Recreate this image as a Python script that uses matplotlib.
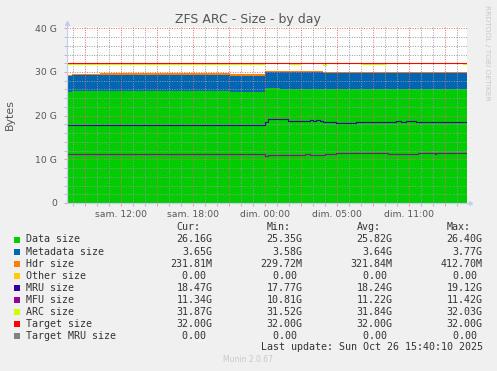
import matplotlib
matplotlib.use('Agg')
import matplotlib.pyplot as plt
import numpy as np
from matplotlib.patches import Rectangle
from matplotlib.ticker import FixedLocator

# ---------------- data (values in G, time in hours since Sat 00:00 UTC) ----------------
t_start, t_end = 5.47, 38.8

t_data = [5.47, 5.86, 19.05, 21.97, 23.22, 38.8]
v_data = [25.35, 25.60, 25.38, 26.40, 26.16, 26.16]

t_meta = [5.47, 8.22, 19.05, 21.97, 23.22, 26.83, 27.25, 38.8]
v_meta = [3.62, 3.70, 3.64, 3.60, 3.77, 3.58, 3.65, 3.65]

t_hdr = [5.47, 21.97, 34.05, 38.8]
v_hdr = [0.4127, 0.29, 0.2318, 0.2318]

t_other = [5.47, 38.8]
v_other = [0.0, 0.0]

t_mru = [5.47, 6.4, 6.7, 11.7, 12.0, 21.97, 22.25, 23.92, 25.72, 26.0, 26.28,
         26.55, 26.83, 27.95, 29.61, 32.95, 33.36, 33.78, 34.61, 38.8]
v_mru = [17.77, 17.95, 17.77, 17.95, 17.77, 18.60, 19.12, 18.85, 19.00, 18.85, 19.00,
         18.85, 18.50, 18.30, 18.50, 18.70, 18.50, 18.70, 18.47, 18.47]

t_mfu = [5.47, 21.97, 22.25, 25.3, 25.72, 26.97, 27.95, 32.25, 34.75, 36.14, 36.28, 38.8]
v_mfu = [11.20, 10.81, 11.05, 11.15, 11.05, 11.15, 11.40, 11.22, 11.42, 11.30, 11.34, 11.34]

t_arc = [5.47, 21.97, 24.05, 25.03, 26.83, 27.1, 30.03, 32.11, 38.5, 38.8]
v_arc = [31.85, 32.02, 31.75, 32.02, 31.52, 32.02, 31.75, 32.02, 31.87, 31.87]

t_target = [5.47, 38.8]
v_target = [32.0, 32.0]

t_target_mru = [5.47, 38.8]
v_target_mru = [0.0, 0.0]

x_tick_pos = [10, 16, 22, 28, 34]
x_tick_labels = ['sam. 12:00', 'sam. 18:00', 'dim. 00:00', 'dim. 05:00', 'dim. 11:00']
y_tick_pos = [0, 10, 20, 30, 40]
y_tick_labels = ['0', '10 G', '20 G', '30 G', '40 G']

legend_names = ['Data size', 'Metadata size', 'Hdr size', 'Other size', 'MRU size',
                'MFU size', 'ARC size', 'Target size', 'Target MRU size']
legend_colors = ['#00CC00', '#0066B3', '#FF8000', '#FFCC00', '#330099',
                 '#990099', '#CCFF00', '#FF0000', '#808080']
cur_vals = ['26.16G', '3.65G', '231.81M', '0.00 ', '18.47G', '11.34G', '31.87G', '32.00G', '0.00 ']
min_vals = ['25.35G', '3.58G', '229.72M', '0.00 ', '17.77G', '10.81G', '31.52G', '32.00G', '0.00 ']
avg_vals = ['25.82G', '3.64G', '321.84M', '0.00 ', '18.24G', '11.22G', '31.84G', '32.00G', '0.00 ']
max_vals = ['26.40G', '3.77G', '412.70M', '0.00 ', '19.12G', '11.42G', '32.03G', '32.00G', '0.00 ']

# ---------------- figure ----------------
W, H = 497, 371
fig = plt.figure(figsize=(W / 100, H / 100), dpi=100, facecolor='#f0f0f0')

def fx(x):
    return x / W

def fy(y):
    return 1 - y / H

ax_top_px, ax_bot_px = 27.0, 203.0
ymax = 40 * (ax_bot_px - ax_top_px) / (ax_bot_px - 28.3)
ax = fig.add_axes([fx(67), fy(ax_bot_px), fx(466.5) - fx(67), fy(ax_top_px) - fy(ax_bot_px)])
ax.set_facecolor('white')

# common step grid (step lookup, no interpolation)
grid_t = np.array(sorted(set(t_data + t_meta + t_hdr + t_other)))

def step_at(ts, vs, grid):
    ts = np.asarray(ts)
    vs = np.asarray(vs)
    idx = np.searchsorted(ts, grid, side='right') - 1
    idx = np.clip(idx, 0, len(vs) - 1)
    return vs[idx]

d = step_at(t_data, v_data, grid_t)
m = step_at(t_meta, v_meta, grid_t)
h = step_at(t_hdr, v_hdr, grid_t)
o = step_at(t_other, v_other, grid_t)

b0 = np.zeros_like(d)
b1 = d
b2 = b1 + m
b3 = b2 + h
b4 = b3 + o
ax.fill_between(grid_t, b0, b1, step='post', color=legend_colors[0], lw=0, zorder=1)
ax.fill_between(grid_t, b1, b2, step='post', color=legend_colors[1], lw=0, zorder=1)
ax.fill_between(grid_t, b2, b3, step='post', color=legend_colors[2], lw=0, zorder=1)
ax.fill_between(grid_t, b3, b4, step='post', color=legend_colors[3], lw=0, zorder=1)

lw = 0.8
ax.step(t_mru, v_mru, where='post', color=legend_colors[4], lw=lw, zorder=3)
ax.step(t_mfu, v_mfu, where='post', color=legend_colors[5], lw=lw, zorder=3)
ax.step(t_arc, v_arc, where='post', color=legend_colors[6], lw=lw, zorder=3)
ax.step(t_target, v_target, where='post', color=legend_colors[7], lw=lw, zorder=3)
ax.step(t_target_mru, v_target_mru, where='post', color=legend_colors[8], lw=lw, zorder=3)

ax.set_xlim(t_start, t_end)
ax.set_ylim(0, ymax)

# grid
minor_x = list(range(6, 39))
major_x = list(range(7, 39, 3))
ax.xaxis.set_major_locator(FixedLocator(major_x))
ax.xaxis.set_minor_locator(FixedLocator(minor_x))
ax.set_xticklabels([x_tick_labels[x_tick_pos.index(v)] if v in x_tick_pos else '' for v in major_x])
ax.yaxis.set_major_locator(FixedLocator(y_tick_pos))
ax.yaxis.set_minor_locator(FixedLocator(list(range(0, 41, 2))))
ax.set_yticklabels(y_tick_labels)

mgrid = (0.9, 0.4, 0.4, 0.35)
ggrid = (0.6, 0.6, 0.6, 0.28)
ax.grid(which='minor', color=ggrid, lw=0.7, ls=(0, (1, 1.5)), zorder=4)
ax.grid(which='major', color=mgrid, lw=0.7, ls=(0, (1, 1.5)), zorder=4)
ax.set_axisbelow(False)

ax.tick_params(axis='both', which='both', direction='out', length=2, width=0.7,
               labelsize=6.7, labelcolor='#555555')
ax.tick_params(axis='x', which='minor', colors=(0.6, 0.6, 0.6, 0.6), labelcolor='#555555')
ax.tick_params(axis='x', which='major', colors=(0.9, 0.4, 0.4, 0.6), labelcolor='#555555', pad=3)
ax.tick_params(axis='y', which='minor', colors=(0.6, 0.6, 0.6, 0.6))
ax.tick_params(axis='y', which='major', colors=(0.9, 0.4, 0.4, 0.6), labelcolor='#555555', pad=5)

axis_col = '#c4ccf0'
for s in ['top', 'right']:
    ax.spines[s].set_visible(False)
for s in ['left', 'bottom']:
    ax.spines[s].set_color(axis_col)
    ax.spines[s].set_linewidth(0.8)
    ax.spines[s].set_zorder(5)

# axis arrows
ax.plot([1.01], [0.0], marker=(3, 0, -90), ms=3, color=axis_col, transform=ax.transAxes,
        clip_on=False, zorder=6)
ax.plot([0.0], [1.02], marker='^', ms=3, color=axis_col, transform=ax.transAxes,
        clip_on=False, zorder=6)
ax.plot([0.0, 1.01], [0.0, 0.0], color=axis_col, lw=0.8, transform=ax.transAxes, clip_on=False, zorder=5)
ax.plot([0.0, 0.0], [0.0, 1.02], color=axis_col, lw=0.8, transform=ax.transAxes, clip_on=False, zorder=5)

# texts
fig.text(fx(248), fy(19), 'ZFS ARC - Size - by day', ha='center', va='center',
         fontsize=9, color='#555555')
fig.text(fx(10), fy(115), 'Bytes', ha='center', va='center', rotation=90,
         fontsize=7.9, color='#555555')
fig.text(fx(487.5), fy(53), 'RRDTOOL / TOBI OETIKER', ha='center', va='center',
         rotation=-90, fontsize=5.4, color='#c8c8c8')

mono = 'DejaVu Sans Mono'
fs = 7.2
tc = '#333333'
hdr_y = 227
for lab, xr in zip(['Cur:', 'Min:', 'Avg:', 'Max:'], [200, 290.5, 380.5, 470.5]):
    fig.text(fx(xr), fy(hdr_y), lab, ha='right', va='center', family=mono, fontsize=fs, color=tc)

col_x = [212.3, 302.7, 392.7, 482.7]
for i, name in enumerate(legend_names):
    yy = 239.5 + 12.05 * i
    fig.patches.append(Rectangle((fx(14), fy(yy + 3)), 6 / W, 6 / H, transform=fig.transFigure,
                                 facecolor=legend_colors[i], edgecolor='none'))
    fig.text(fx(26), fy(yy), name, ha='left', va='center', family=mono, fontsize=fs, color=tc)
    for xr, vals in zip(col_x, [cur_vals, min_vals, avg_vals, max_vals]):
        fig.text(fx(xr), fy(yy), vals[i], ha='right', va='center', family=mono,
                 fontsize=fs, color=tc)

fig.text(fx(482.7), fy(347.5), 'Last update: Sun Oct 26 15:40:10 2025', ha='right', va='center',
         family=mono, fontsize=fs, color=tc)
fig.text(fx(248), fy(360), 'Munin 2.0.67', ha='center', va='center', fontsize=5.5, color='#c8c8c8')

fig.savefig('out.png', dpi=100, facecolor=fig.get_facecolor())
